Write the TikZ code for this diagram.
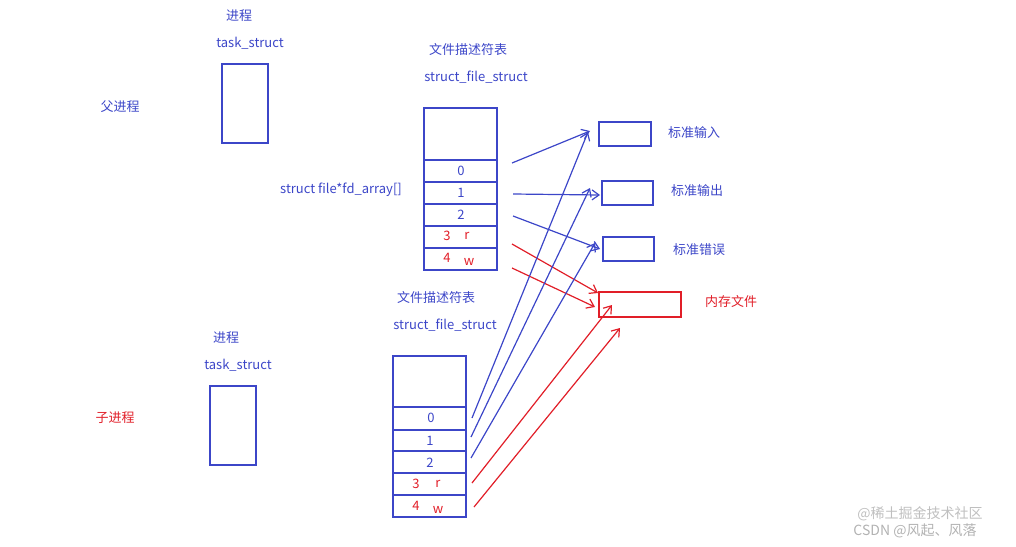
\documentclass[tikz,border=0pt]{standalone}
\usepackage{fontspec}
\setmainfont{Noto Sans CJK SC}
\usetikzlibrary{arrows.meta}
\definecolor{bl}{RGB}{60,70,200}
\definecolor{rd}{RGB}{225,30,40}
\begin{document}
\begin{tikzpicture}[x=1pt,y=-1pt,
  box/.style={draw=bl,line width=1.6pt},
  rbox/.style={draw=rd,line width=1.6pt},
  t/.style={font=\fontsize{13}{15}\selectfont,text=bl,inner sep=0pt},
  rt/.style={t,text=rd},
  ba/.style={draw=bl,line width=1.2pt,-{Straight Barb[length=7pt,width=10pt]}},
  ra/.style={ba,draw=rd}]
\useasboundingbox (0,0) rectangle (1016,546);
% parent
\node[t] (p1) at (239,16) {进程};
\node[t] (p2) at (250,43) {task\_struct};
\node[t] (p3) at (120,107) {父进程};
\draw[box] (222,64) rectangle (268,143);
\node[t] at (468,50) {文件描述符表};
\node[t] at (476,77) {struct\_file\_struct};
\node[t] at (341,190) {struct file*fd\_array[]};
\draw[box] (424,108) rectangle (497,160);
\foreach \i/\a/\b in {0/160/182,1/182/204,2/204/226,3/226/248,4/248/270}{\draw[box] (424,\a) rectangle (497,\b);}
\node[t] at (461,171) {0};
\node[t] at (461,193) {1};
\node[t] at (461,215) {2};
\node[rt] at (447,236) {3};\node[rt] at (467,236) {r};
\node[rt] at (447,258) {4};\node[rt] at (469,262) {w};
% targets
\draw[box] (599,122) rectangle (651,146);
\draw[box] (602,181) rectangle (653,205);
\draw[box] (603,237) rectangle (654,261);
\draw[rbox] (599,292) rectangle (681,317);
\node[t] at (694,133) {标准输入};
\node[t] at (697,191) {标准输出};
\node[t] at (699,250) {标准错误};
\node[rt] at (731,302) {内存文件};
% child
\node[t] at (226,338) {进程};
\node[t] at (238,365) {task\_struct};
\node[rt] at (115,418) {子进程};
\draw[box] (210,386) rectangle (256,465);
\node[t] at (436,298) {文件描述符表};
\node[t] at (445,325) {struct\_file\_struct};
\draw[box] (393,356) rectangle (466,407);
\foreach \a/\b in {407/430,430/451,451/473,473/495,495/517}{\draw[box] (393,\a) rectangle (466,\b);}
\node[t] at (431,418) {0};
\node[t] at (430,441) {1};
\node[t] at (430,463) {2};
\node[rt] at (416,484) {3};\node[rt] at (438,484) {r};
\node[rt] at (416,506) {4};\node[rt] at (438,510) {w};
% arrows
\draw[ba] (512,163) -- (590,131);
\draw[ba] (513,194) -- (600,195);
\draw[ba] (513,216) -- (600,249);
\draw[ra] (512,244) -- (598,293);
\draw[ra] (512,268) -- (595,307);
\draw[ba] (472,418) -- (588,132);
\draw[ba] (471,437) -- (590,188);
\draw[ba] (471,458) -- (595,243);
\draw[ra] (472,483) -- (612,305);
\draw[ra] (474,507) -- (620,328);
\node[text=gray!50,font=\fontsize{14}{15}\selectfont,inner sep=0pt] at (920,514) {@稀土掘金技术社区};
\node[text=gray!60,font=\fontsize{14}{15}\selectfont,inner sep=0pt] at (915,531) {CSDN @风起、风落};
\end{tikzpicture}
\end{document}
